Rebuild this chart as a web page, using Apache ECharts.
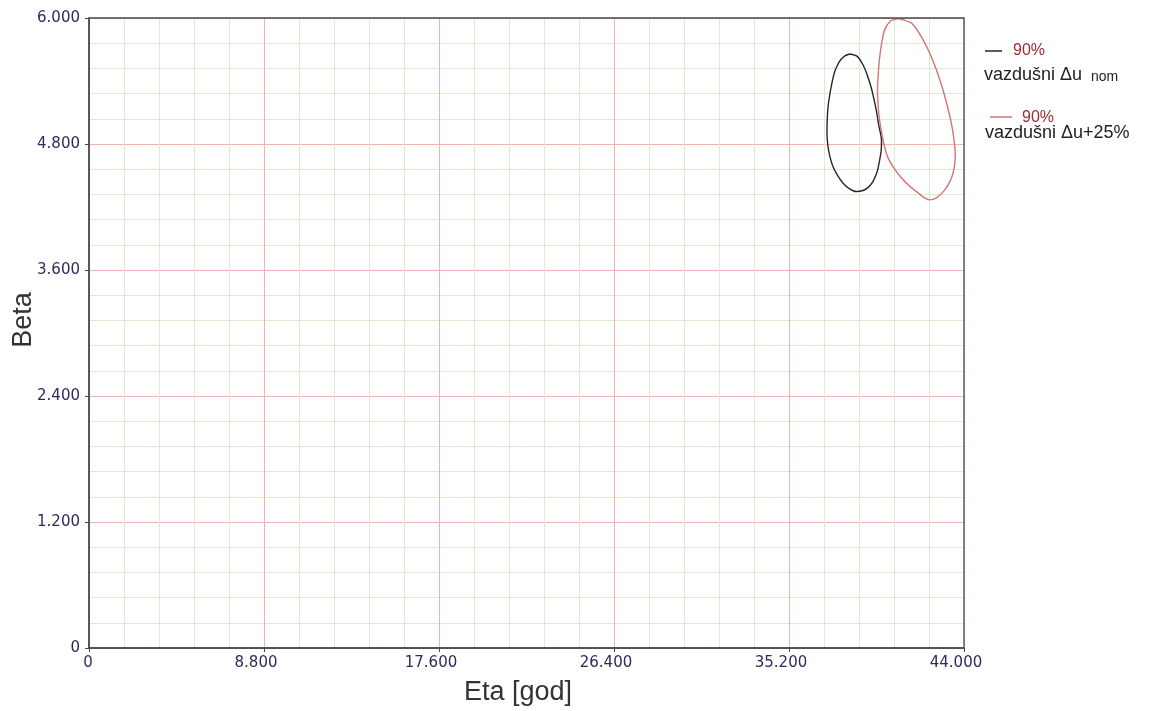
<!DOCTYPE html>
<html>
<head>
<meta charset="utf-8">
<script src="https://cdn.jsdelivr.net/npm/echarts@6/dist/echarts.min.js"></script>
<style>
html,body{margin:0;padding:0;background:#fff;}
#c{width:1153px;height:711px;}
</style>
</head>
<body>
<div id="c"></div>
<script>
// Black contour: 90% vazdušni Δu nom
const blackEta  = [38.25, 38.61, 38.92, 39.13, 39.34, 39.48, 39.60, 39.70, 39.85, 39.84, 39.76, 39.64, 39.42, 39.18, 38.92, 38.59, 38.25, 37.92, 37.64, 37.41, 37.26, 37.16, 37.11, 37.12, 37.16, 37.25, 37.36, 37.50, 37.65, 37.80, 38.03, 38.25];
const blackBeta = [5.657, 5.637, 5.555, 5.459, 5.333, 5.221, 5.110, 4.992, 4.840, 4.745, 4.649, 4.540, 4.442, 4.387, 4.357, 4.347, 4.373, 4.427, 4.501, 4.585, 4.678, 4.776, 4.897, 5.021, 5.145, 5.269, 5.383, 5.491, 5.555, 5.602, 5.641, 5.657];
// Red contour: 90% vazdušni Δu+25%
const redEta  = [40.68, 40.99, 41.36, 41.70, 42.02, 42.33, 42.61, 42.88, 43.12, 43.38, 43.53, 43.56, 43.53, 43.41, 43.20, 42.93, 42.61, 42.28, 41.97, 41.69, 41.27, 40.85, 40.49, 40.18, 39.98, 39.85, 39.74, 39.68, 39.65, 39.68, 39.73, 39.81, 39.90, 40.01, 40.29, 40.47, 40.68];
const redBeta = [5.995, 5.980, 5.952, 5.869, 5.765, 5.641, 5.507, 5.355, 5.193, 4.983, 4.792, 4.697, 4.602, 4.497, 4.411, 4.339, 4.287, 4.268, 4.292, 4.335, 4.397, 4.478, 4.568, 4.668, 4.792, 4.919, 5.050, 5.174, 5.317, 5.443, 5.574, 5.698, 5.803, 5.889, 5.970, 5.985, 5.995];

const xMin = 0, xMax = 44, xStep = 8.8, xMinorStep = 1.76;
const yMin = 0, yMax = 6, yStep = 1.2, yMinorStep = 0.24;
const xName = 'Eta [god]';
const yName = 'Beta';
const legendPct = ['90%', '90%'];
const legendLabels = ['vazdušni Δu', 'vazdušni Δu+25%'];
const legendSub = 'nom';

const zip = (a, b) => a.map((v, i) => [v, b[i]]);
const fmt = v => (Math.abs(v) < 1e-9 ? '0' : v.toFixed(3));

const chart = echarts.init(document.getElementById('c'), null, {renderer: 'canvas'});
const tickColor = '#2b2d5c';
const lblFont = 'DejaVu Sans';
const nameFont = 'Liberation Sans';
const majorColor = '#efb4ae';
const minorColor = '#dbecd3';
const G = {left: 89, top: 18, width: 875, height: 630};

// grid lines: every 5th line (major) red, the rest pale green
const gridAxis = (min, max, step) => ({
  type: 'value', min: min, max: max, interval: step, z: 0,
  axisLine: {show: false}, axisTick: {show: false}, axisLabel: {show: false},
  splitLine: {show: true, lineStyle: {color: [majorColor, minorColor, minorColor, minorColor, minorColor], width: 1}}
});

chart.setOption({
  backgroundColor: '#ffffff',
  animation: false,
  grid: {left: G.left, top: G.top, width: G.width, height: G.height, containLabel: false, outerBoundsMode: 'none', show: false},
  xAxis: [{
    type: 'value', min: xMin, max: xMax, interval: xStep, z: 2,
    name: xName, nameLocation: 'middle', nameGap: 31, nameMoveOverlap: false,
    nameTextStyle: {fontFamily: nameFont, fontSize: 27, color: '#333', padding: [0, 17, 0, 0]},
    axisLine: {show: true, onZero: false, lineStyle: {color: '#4a4a4a', width: 1.5}},
    axisTick: {show: true, length: 4, lineStyle: {color: '#4a4a4a'}},
    axisLabel: {
      margin: 8,
      formatter: v => (Math.abs(v) < 1e-9 ? '{z|0}' : '{n|' + fmt(v) + '}'),
      rich: {
        z: {fontFamily: lblFont, fontSize: 15, color: tickColor, padding: [0, 2, 0, 0]},
        n: {fontFamily: lblFont, fontSize: 15, color: tickColor, padding: [0, 16, 0, 0]}
      }
    },
    splitLine: {show: false}
  }, gridAxis(xMin, xMax, xMinorStep)],
  yAxis: [{
    type: 'value', min: yMin, max: yMax, interval: yStep, z: 2,
    name: yName, nameLocation: 'middle', nameGap: 52, nameMoveOverlap: false,
    nameTextStyle: {fontFamily: nameFont, fontSize: 27, color: '#333', padding: [0, 0, 0, 26]},
    axisLine: {show: true, onZero: false, lineStyle: {color: '#4a4a4a', width: 1.5}},
    axisTick: {show: true, length: 4, lineStyle: {color: '#4a4a4a'}},
    axisLabel: {margin: 9, fontFamily: lblFont, fontSize: 15, color: tickColor, formatter: fmt},
    splitLine: {show: false}
  }, gridAxis(yMin, yMax, yMinorStep)],
  series: [
    {type: 'line', name: legendLabels[0], data: zip(blackEta, blackBeta), smooth: 0.2, showSymbol: false,
     lineStyle: {color: '#262626', width: 1.4}, z: 3},
    {type: 'line', name: legendLabels[1], data: zip(redEta, redBeta), smooth: 0.2, showSymbol: false,
     lineStyle: {color: '#d27474', width: 1.4}, z: 3}
  ],
  graphic: [
    {type: 'rect', z: 50, shape: {x: G.left, y: G.top, width: G.width, height: G.height},
     style: {fill: 'none', stroke: '#4a4a4a', lineWidth: 1.3}},
    {type: 'line', shape: {x1: 985, y1: 51, x2: 1002, y2: 51}, style: {stroke: '#262626', lineWidth: 1.5}},
    {type: 'text', x: 1013, y: 51, style: {text: legendPct[0], fontFamily: nameFont, fontSize: 16, fill: '#a02c34', verticalAlign: 'middle'}},
    {type: 'text', x: 984, y: 75, style: {text: legendLabels[0], fontFamily: nameFont, fontSize: 18, fill: '#222', verticalAlign: 'middle'}},
    {type: 'text', x: 1091, y: 77, style: {text: legendSub, fontFamily: nameFont, fontSize: 14, fill: '#222', verticalAlign: 'middle'}},
    {type: 'line', shape: {x1: 990, y1: 117, x2: 1012, y2: 117}, style: {stroke: '#d27474', lineWidth: 1.5}},
    {type: 'text', x: 1022, y: 118, style: {text: legendPct[1], fontFamily: nameFont, fontSize: 16, fill: '#a02c34', verticalAlign: 'middle'}},
    {type: 'text', x: 985, y: 133, style: {text: legendLabels[1], fontFamily: nameFont, fontSize: 18, fill: '#222', verticalAlign: 'middle'}}
  ]
});
</script>
</body>
</html>
